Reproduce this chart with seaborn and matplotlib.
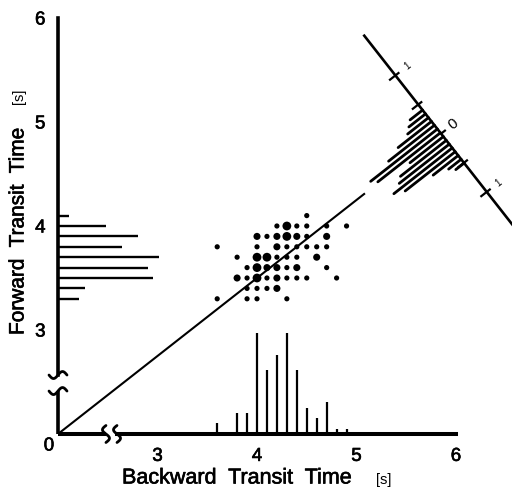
import numpy as np
import pandas as pd
import matplotlib
matplotlib.use("Agg")
import matplotlib.pyplot as plt
import matplotlib.patheffects as pe
import seaborn as sns

# ---------------- data ----------------
# marginal histogram of forward transit times (left axis)
fwd_bins = [4.1, 4.0, 3.9, 3.8, 3.7, 3.6, 3.5, 3.4, 3.3]
fwd_counts = [2, 9, 15, 12, 19, 17, 18, 5, 4]

# marginal histogram of backward transit times (bottom axis)
bwd_bins = [3.6, 3.8, 3.9, 4.0, 4.1, 4.2, 4.3, 4.4, 4.5, 4.6, 4.7, 4.8, 4.9]
bwd_counts = [2, 4, 4, 19, 12, 15, 19, 12, 5, 3, 6, 1, 1]

# scatter of paired measurements (backward, forward, multiplicity)
scatter_b = [4.5,
             4.2, 4.3, 4.4, 4.5, 4.7, 4.9,
             4.0, 4.1, 4.2, 4.3, 4.4, 4.5, 4.7,
             3.6, 4.0, 4.2, 4.3, 4.4, 4.5, 4.6, 4.7,
             3.8, 4.0, 4.1, 4.2, 4.3, 4.4, 4.6,
             3.9, 4.0, 4.1, 4.2, 4.3, 4.4, 4.7,
             3.8, 3.9, 4.0, 4.1, 4.2, 4.3, 4.4, 4.5, 4.8,
             3.9, 4.0, 4.1, 4.2,
             3.6, 3.9, 4.0, 4.3]
scatter_f = [4.1,
             4.0, 4.0, 4.0, 4.0, 4.0, 4.0,
             3.9, 3.9, 3.9, 3.9, 3.9, 3.9, 3.9,
             3.8, 3.8, 3.8, 3.8, 3.8, 3.8, 3.8, 3.8,
             3.7, 3.7, 3.7, 3.7, 3.7, 3.7, 3.7,
             3.6, 3.6, 3.6, 3.6, 3.6, 3.6, 3.6,
             3.5, 3.5, 3.5, 3.5, 3.5, 3.5, 3.5, 3.5, 3.5,
             3.4, 3.4, 3.4, 3.4,
             3.3, 3.3, 3.3, 3.3]
scatter_n = [1,
             1, 3, 1, 1, 1, 1,
             2, 1, 2, 3, 2, 1, 2,
             1, 1, 2, 1, 1, 1, 1, 1,
             1, 3, 3, 1, 1, 1, 2,
             1, 3, 2, 2, 1, 2, 1,
             2, 1, 3, 1, 2, 1, 1, 1, 1,
             1, 1, 1, 2,
             1, 1, 1, 1]

# line through the cloud
diag_x = [2.0, 5.085]
diag_y = [2.0, 4.314]

# histogram of differences, drawn along an axis perpendicular to the line
diff_bins = [-0.405, -0.34, -0.275, -0.21, -0.145, -0.08, -0.015, 0.05,
             0.115, 0.18, 0.245, 0.31, 0.375, 0.44, 0.505]
diff_counts = [3, 4, 5, 8, 11, 16, 15, 8, 11, 12, 14, 12, 6, 3, 2]
diff_ticks = [-1.0, -0.5, 0.0, 0.5, 1.0]
diff_tick_labels = ["1", "", "0", "", "1"]

x_ticks = [3, 3.5, 4, 4.5, 5, 5.5, 6]
x_tick_labels = ["3", "", "4", "", "5", "", "6"]
y_ticks = [3, 3.5, 4, 4.5, 5, 5.5, 6]
y_tick_labels = ["3", "", "4", "", "5", "", "6"]

# ---------------- style / layout ----------------
sns.set_theme(style="white")
plt.rcParams['font.family'] = ['Liberation Sans', 'DejaVu Sans']
bold = [pe.withStroke(linewidth=0.45, foreground="black")]

W, H = 512, 491
fig = plt.figure(figsize=(W / 100, H / 100), dpi=100)
ax = fig.add_axes([0, 0, 1, 1])
XMIN, XMAX = 2 - 58 / 99.5, 2 + 454 / 99.5
YMIN, YMAX = 2 - 57 / 104, 2 + 434 / 104
sx = W / (XMAX - XMIN)   # px per data unit
sy = H / (YMAX - YMIN)
count_px = 5.3            # px per count in the histograms
diff_px = 74.0            # px per second on the rotated axis
ink = "black"

# scatter (seaborn)
df = pd.DataFrame({"backward": scatter_b, "forward": scatter_f, "n": scatter_n})
sns.scatterplot(data=df, x="backward", y="forward", size="n",
                sizes={1: 14, 2: 26, 3: 40}, color=ink, linewidth=0,
                legend=False, ax=ax, zorder=3)
ax.set_xlabel("")
ax.set_ylabel("")
ax.set_xlim(XMIN, XMAX)
ax.set_ylim(YMIN, YMAX)

# spines
for side in ["top", "right"]:
    ax.spines[side].set_visible(False)
ax.spines["left"].set_position(("data", 2.0))
ax.spines["bottom"].set_position(("data", 2.0))
ax.spines["left"].set_bounds(2.567, 6.0)
ax.spines["bottom"].set_bounds(2.593, 6.0)
ax.spines["left"].set_linewidth(2.6)
ax.spines["bottom"].set_linewidth(2.9)
ax.spines["left"].set_color(ink)
ax.spines["bottom"].set_color(ink)

ax.set_xticks(x_ticks)
ax.set_xticklabels(x_tick_labels)
ax.set_yticks(y_ticks)
ax.set_yticklabels(y_tick_labels)
ax.tick_params(axis="both", direction="out", length=7, width=1.6,
               colors=ink, labelsize=13.5)
ax.tick_params(axis="x", pad=3)
ax.tick_params(axis="y", pad=2)
for lab in ax.get_xticklabels() + ax.get_yticklabels():
    lab.set_path_effects(bold)

# stubs near origin and axis-break squiggles
ax.plot([2.0, 2.0], [2.0, 2.413], color=ink, lw=2.6, solid_capstyle="butt")
ax.plot([2.0, 2.482], [2.0, 2.0], color=ink, lw=2.9, solid_capstyle="butt")
t = np.linspace(-1, 1, 40)
for y0 in [2.413, 2.567]:
    ax.plot(2.0 + t * 9 / sx, y0 + 3.5 * np.sin(np.pi * t) / sy, color=ink, lw=2.0)
for x0 in [2.482, 2.593]:
    ax.plot(x0 - 3.5 * np.sin(np.pi * t) / sx, 2.0 + t * 8.5 / sy, color=ink, lw=2.0)

ax.text(2 - 9 / sx, 2 - 12 / sy, "0", ha="center", va="center", fontsize=13.5,
        color=ink, path_effects=bold)

# marginal histograms
ax.vlines(bwd_bins, 2.0, 2.0 + np.array(bwd_counts) * count_px / sy,
          color=ink, lw=1.6)
ax.hlines(fwd_bins, 2.0, 2.0 + np.array(fwd_counts) * count_px / sx,
          color=ink, lw=1.7)

# diagonal line
ax.plot(diag_x, diag_y, color=ink, lw=1.5, solid_capstyle="butt")

# rotated histogram of differences
slope = (diag_y[1] - diag_y[0]) / (diag_x[1] - diag_x[0])
d = np.array([sx, sy * slope])
d = d / np.linalg.norm(d)
w = -d                             # toward origin (bar direction)
u = np.array([d[1], -d[0]])        # along rotated axis, down-right
cx = 5.85
cy = diag_y[0] + slope * (cx - diag_x[0])
C = np.array([cx, cy])
scale = np.array([sx, sy])


def pt(s_px, l_px):
    return C + (s_px * u + l_px * w) / scale


a0 = pt(-1.7 * diff_px, 0)
a1 = pt(1.8 * diff_px, 0)
ax.plot([a0[0], a1[0]], [a0[1], a1[1]], color=ink, lw=1.9, solid_capstyle="butt")
for db, n in zip(diff_bins, diff_counts):
    p0 = pt(db * diff_px, 0)
    p1 = pt(db * diff_px, n * count_px)
    ax.plot([p0[0], p1[0]], [p0[1], p1[1]], color=ink, lw=2.0,
            solid_capstyle="round")
ang = np.degrees(np.arctan2(d[1], d[0]))
for tv, tl in zip(diff_ticks, diff_tick_labels):
    if tv == 0:
        p0, p1 = pt(0, -6), pt(0, 0)
    else:
        p0, p1 = pt(tv * diff_px, -5), pt(tv * diff_px, 8)
    ax.plot([p0[0], p1[0]], [p0[1], p1[1]], color=ink, lw=1.6,
            solid_capstyle="butt")
    if tl:
        lp = pt(tv * diff_px, -15)
        ax.text(lp[0], lp[1], tl, ha="center", va="center",
                fontsize=11 if tl == "0" else 7, rotation=ang, color=ink)

# axis titles
fig.text(122 / W, 1 - 478 / H, "Backward  Transit  Time", ha="left", va="center",
         fontsize=15.5, color=ink, path_effects=bold)
fig.text(376 / W, 1 - 480 / H, "[s]", ha="left", va="center", fontsize=10.5,
         color=ink)
fig.text(18 / W, 1 - 335 / H, "Forward  Transit  Time", ha="center", va="bottom",
         rotation=90, fontsize=15, color=ink, path_effects=bold)
fig.text(19 / W, 1 - 96 / H, "[s]", ha="center", va="center", rotation=90,
         fontsize=10.5, color=ink)

fig.savefig("out.png", dpi=100)
